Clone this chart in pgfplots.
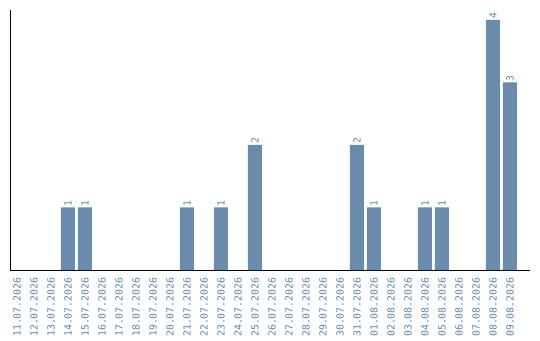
\documentclass[border=0pt]{standalone}
\usepackage{pgfplots}
\pgfplotsset{compat=1.18}
\usepackage{fontspec}
\setmainfont{DejaVu Sans Mono}
\setmonofont{DejaVu Sans Mono}
\definecolor{barblue}{HTML}{6A8BAB}
\definecolor{lblblue}{HTML}{5F83AA}
\begin{document}
\begin{tikzpicture}[x=1pt,y=1pt]
\begin{pgfinterruptboundingbox}
\begin{axis}[
  at={(10pt,70pt)}, anchor=south west,
  scale only axis, width=520pt, height=260pt,
  xmin=-0.41, xmax=30.18, ymin=0, ymax=4.16,
  axis lines=left, axis line style={-, black, line width=0.9pt},
  ytick=\empty,
  xtick={0,...,29},
  xticklabels={11.07.2026,12.07.2026,13.07.2026,14.07.2026,15.07.2026,16.07.2026,17.07.2026,18.07.2026,19.07.2026,20.07.2026,21.07.2026,22.07.2026,23.07.2026,24.07.2026,25.07.2026,26.07.2026,27.07.2026,28.07.2026,29.07.2026,30.07.2026,31.07.2026,01.08.2026,02.08.2026,03.08.2026,04.08.2026,05.08.2026,06.08.2026,07.08.2026,08.08.2026,09.08.2026},
  major tick length=0pt,
  xticklabel style={rotate=90, anchor=east, font=\fontsize{9.8}{10}\selectfont, text=lblblue, inner sep=0pt},
  xticklabel shift=7.5pt,
]
\addplot[ybar, bar width=14pt, fill=barblue, draw=none,
  nodes near coords, point meta=explicit symbolic,
  every node near coord/.style={rotate=90, anchor=west, font=\fontsize{9.8}{10}\selectfont, text=lblblue, inner sep=1pt}]
  table[meta=v] {
x y v
3 1 1
4 1 1
10 1 1
12 1 1
14 2 2
20 2 2
21 1 1
24 1 1
25 1 1
28 4 4
29 3 3
};
\end{axis}
\end{pgfinterruptboundingbox}
\path (0pt,0pt) rectangle (540pt,340pt);
\end{tikzpicture}
\end{document}
